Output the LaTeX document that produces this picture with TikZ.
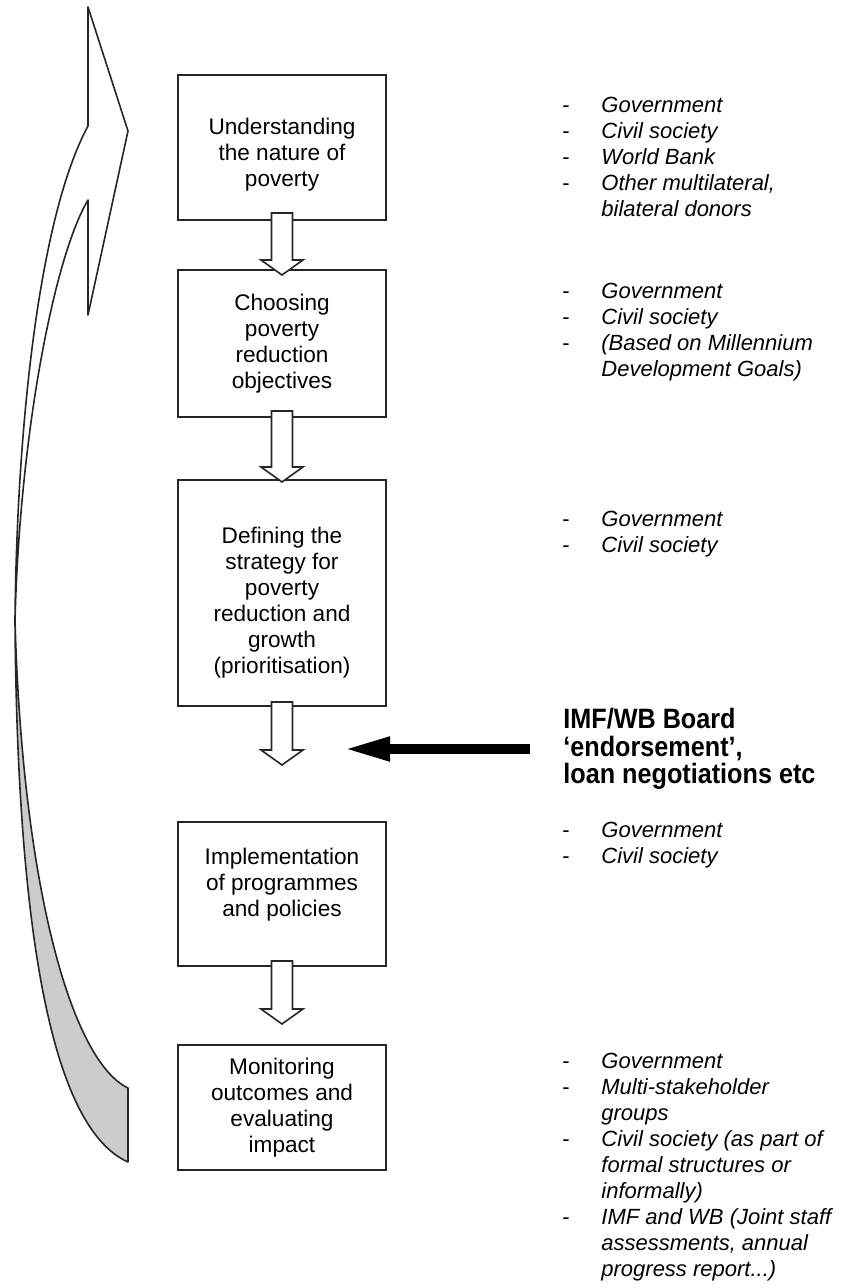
\documentclass[tikz,border=0pt]{standalone}
\usepackage{fontspec}
\setmainfont{Liberation Sans}
\newfontfamily\boardfont[FakeStretch=0.9]{Liberation Sans}
\usepackage{tikz}
\usetikzlibrary{arrows.meta,calc}

\newcommand{\hollowdown}[2]{%
\draw[hollow] ($(#1)+(-10.5,0)$) -- ($(#2)+(-10.5,-15)$) -- ($(#2)+(-21,-15)$) -- (#2) -- ($(#2)+(21,-15)$) -- ($(#2)+(10.5,-15)$) -- ($(#1)+(10.5,0)$) -- cycle;}
\newcommand{\actor}[1]{\strut\makebox[19.5pt][l]{-}\textit{#1}}
\newcommand{\more}[1]{\strut\hspace*{19.5pt}\textit{#1}}

\begin{document}
\begin{tikzpicture}[x=0.5pt,y=-0.5pt,
  stepbox/.style={draw=cbox,line width=0.9pt,fill=cfb,minimum width=104pt,align=center,inner sep=0pt,outer sep=0pt,font=\fontsize{11.3}{13}\selectfont},
  hollow/.style={draw=cbox,line width=0.8pt,fill=cfb},
  actors/.style={anchor=north west,align=left,inner sep=0pt,font=\fontsize{11}{13}\selectfont},
  board/.style={anchor=west,align=left,inner sep=0pt,font=\boardfont\bfseries\fontsize{14}{13.75}\selectfont},
  boardarrow/.style={draw=carr,line width=5pt,-{Triangle[length=23.5pt,width=11pt]},shorten <=16.5pt},
  loopline/.style={draw=cbox,line width=0.8pt,line join=round}]
%
\useasboundingbox (0,0) rectangle (850,1288);
%
\definecolor{cbox}{rgb}{0.15,0.15,0.15}
\definecolor{cfb}{rgb}{1.0,1.0,1.0}
\definecolor{cshade}{rgb}{0.8,0.8,0.8}
\definecolor{carr}{rgb}{0.0,0.0,0.0}
%
% the loop arrow back to the top
\path[loopline,fill=cshade] (15,620) .. controls (17,900) and (45,1125) .. (128,1162) -- (128,1088) .. controls (70,1060) and (22,880) .. (15,620) -- cycle;
\path[loopline,fill=cfb] (88,7) -- (128,131) -- (88,315) -- (88,200) .. controls (55,255) and (20,430) .. (15,620) .. controls (17,420) and (40,215) .. (88,126) -- cycle;
%
\node[stepbox,minimum height=72.5pt] (b1) at (282,147.5) {\rule{0pt}{15pt}Understanding\\the nature of\\poverty};
\node[stepbox,minimum height=73.5pt] (b2) at (282,343.5) {Choosing\\poverty\\reduction\\objectives};
\node[stepbox,minimum height=113pt] (b3) at (282,593) {\rule{0pt}{18pt}Defining the\\strategy for\\poverty\\reduction and\\growth\\(prioritisation)};
\node[stepbox,minimum height=72pt] (b4) at (282,894) {Implementation\\of programmes\\and policies\rule[-12pt]{0pt}{12pt}};
\node[stepbox,minimum height=62.5pt] (b5) at (282,1107.5) {Monitoring\\outcomes and\\evaluating\\impact};
%
\coordinate (a1s) at ($(b1.south)+(0,-7)$);
\coordinate (a1t) at ($(b2.north)+(0,5)$);
\coordinate (a2s) at ($(b2.south)+(0,-6)$);
\coordinate (a2t) at ($(b3.north)+(0,2)$);
\coordinate (a3s) at ($(b3.south)+(0,-4)$);
\coordinate (a3t) at ($(b4.north)+(0,-57)$);
\coordinate (a4s) at ($(b4.south)+(0,-5)$);
\coordinate (a4t) at ($(b5.north)+(0,-21)$);
\hollowdown{a1s}{a1t}
\hollowdown{a2s}{a2t}
\hollowdown{a3s}{a3t}
\hollowdown{a4s}{a4t}
%
\node[actors] (g1) at (562,94) {\actor{Government}\\\actor{Civil society}\\\actor{World Bank}\\\actor{Other multilateral,}\\\more{bilateral donors}};
\node[actors] (g2) at (562,280) {\actor{Government}\\\actor{Civil society}\\\actor{(Based on Millennium}\\\more{Development Goals)}};
\node[actors] (g3) at (562,508) {\actor{Government}\\\actor{Civil society}};
\node[actors] (g4) at (562,819) {\actor{Government}\\\actor{Civil society}};
\node[actors] (g5) at (562,1050) {\actor{Government}\\\actor{Multi-stakeholder}\\\more{groups}\\\actor{Civil society (as part of}\\\more{formal structures or}\\\more{informally)}\\\actor{IMF and WB (Joint staff}\\\more{assessments, annual}\\\more{progress report...)}};
%
\node[board] (board) at (563,749) {IMF/WB Board\\‘endorsement’,\\loan negotiations etc};
\coordinate (endorse) at (343,749);
\draw[boardarrow] (board.west) -- (endorse);
%
\end{tikzpicture}
\end{document}
